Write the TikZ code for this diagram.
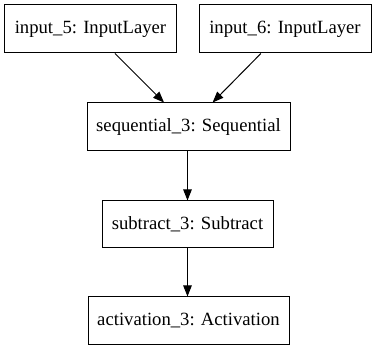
\documentclass[tikz,border=0pt]{standalone}
\usepackage{fontspec}
\setmainfont{Liberation Serif}
\usetikzlibrary{arrows.meta}
\begin{document}
\begin{tikzpicture}[x=1pt,y=-1pt,
  layer/.style={draw=black,line width=1pt,inner sep=0pt,font=\fontsize{18.67}{22}\selectfont},
  conn/.style={line width=1pt,-{Triangle[length=11pt,width=8.5pt]}}]
\useasboundingbox (0,0) rectangle (376,352);
\node[layer,minimum width=171pt,minimum height=48pt] (in5) at (90.5,29) {input\_5: InputLayer};
\node[layer,minimum width=172pt,minimum height=48pt] (in6) at (285,29) {input\_6: InputLayer};
\node[layer,minimum width=203pt,minimum height=48pt] (seq) at (188.5,127) {sequential\_3: Sequential};
\node[layer,minimum width=171pt,minimum height=47pt] (sub) at (187.5,224.5) {subtract\_3: Subtract};
\node[layer,minimum width=201pt,minimum height=48pt] (act) at (188.5,321) {activation\_3: Activation};
\draw[conn] (in5) -- (seq);
\draw[conn] (in6) -- (seq);
\draw[conn] (seq.south -| sub) -- (sub);
\draw[conn] (sub) -- (act.north -| sub);
\end{tikzpicture}
\end{document}
